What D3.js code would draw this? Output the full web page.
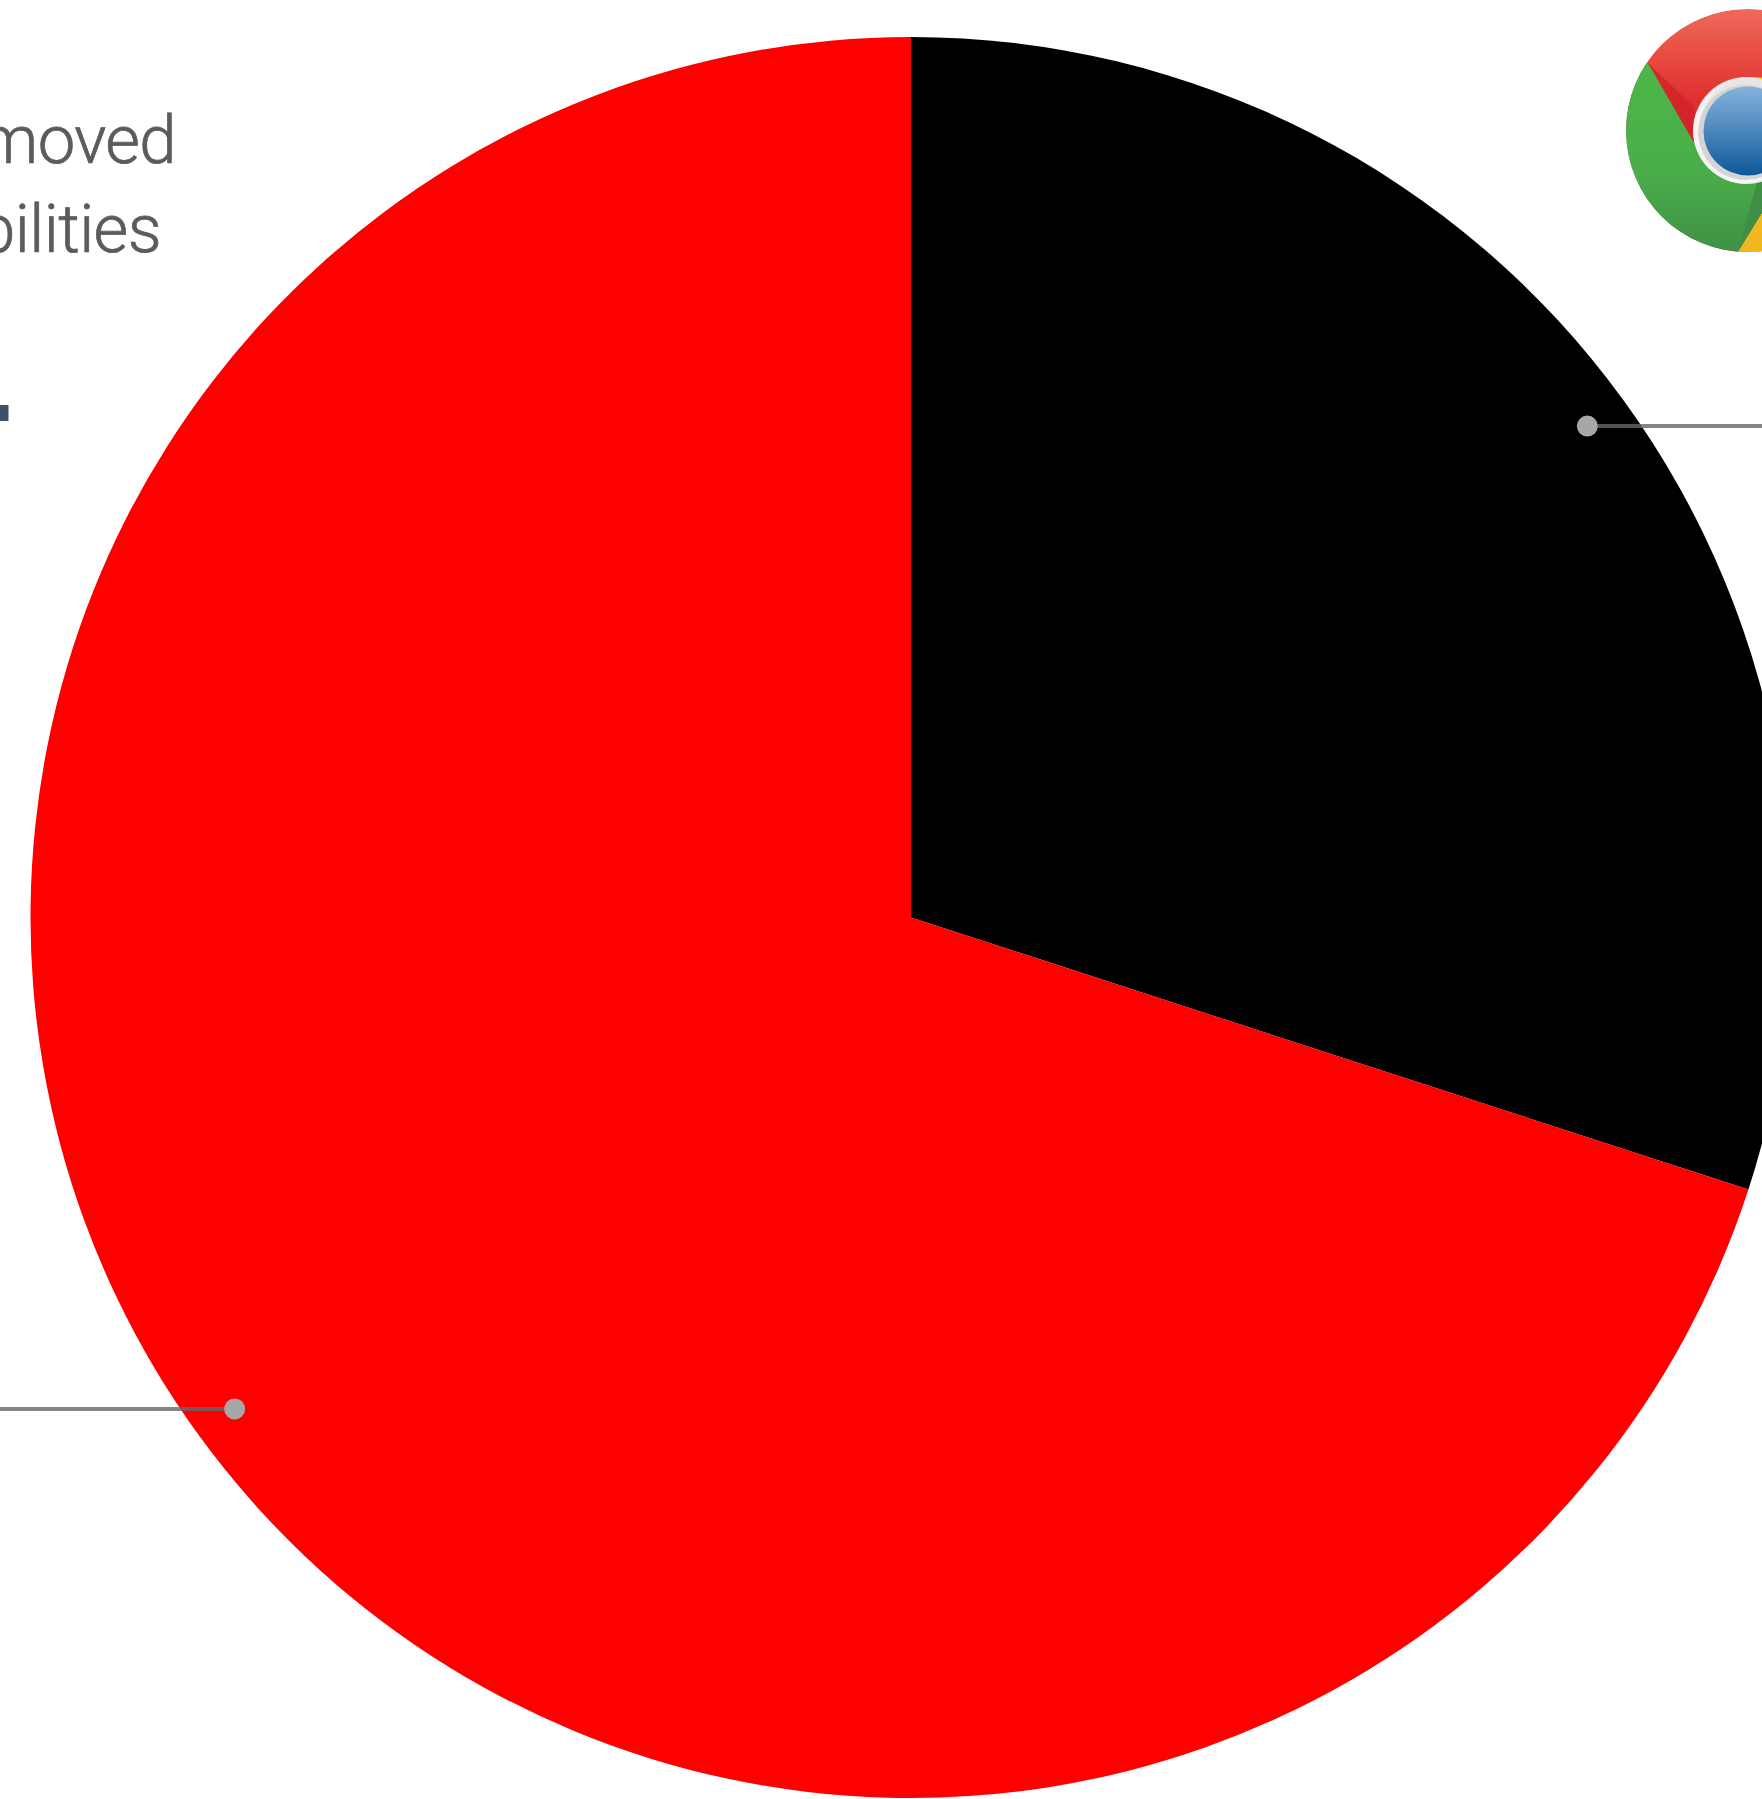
<!DOCTYPE html>
<html>
<head>
<meta charset="utf-8">
<script src="https://cdn.jsdelivr.net/npm/d3@7"></script>
<style>
  html, body { margin: 0; padding: 0; background: #fff; overflow: hidden; }
  svg { display: block; }
</style>
</head>
<body>
<script>
// Pie shares, in percent
const categories = ["Other", "Chrome"];
const shares = [30, 70];
const sliceColors = ["#000000", "#fe0000"];

// Caption lines that run in from the left of the page
const captionLines = ["removed", "vulnerabilities"];

const width = 1762, height = 1799;
const cx = 911, cy = 917.5, radius = 880.5, leaderRadius = 836;

const svg = d3.select("body").append("svg")
  .attr("width", width).attr("height", height)
  .attr("viewBox", [0, 0, width, height]);

const defs = svg.append("defs");
function verticalGradient(id, stops) {
  const g = defs.append("linearGradient").attr("id", id)
    .attr("x1", 0).attr("y1", 0).attr("x2", 0).attr("y2", 1);
  stops.forEach(([o, c]) => g.append("stop").attr("offset", o).attr("stop-color", c));
}
verticalGradient("logoRed", [[0, "#ee6a5c"], [0.2, "#e84a40"], [0.45, "#dd2429"], [1, "#dd2429"]]);
verticalGradient("logoGreen", [[0, "#4cb749"], [0.55, "#4aae4a"], [1, "#3e8e46"]]);
verticalGradient("logoYellow", [[0, "#fdd20a"], [1, "#eeb422"]]);
verticalGradient("logoBlue", [[0, "#85b2dc"], [0.5, "#4b87bd"], [1, "#0e5799"]]);

// Caption text
svg.append("g")
  .attr("font-family", "Roboto, sans-serif")
  .attr("font-weight", 300)
  .attr("font-size", 67)
  .attr("letter-spacing", -0.6)
  .attr("text-rendering", "geometricPrecision")
  .attr("fill", "#5a5b5d")
  .attr("stroke", "#5a5b5d")
  .attr("stroke-width", 0.7)
  .attr("text-anchor", "end")
  .selectAll("text").data(captionLines).join("text")
  .attr("x", (d, i) => i ? 161 : 176)
  .attr("y", (d, i) => 163 + i * 89)
  .text(d => d);

// End of the heading rule at the page edge
svg.append("rect")
  .attr("x", 0).attr("y", 405).attr("width", 8.5).attr("height", 16)
  .attr("fill", "#3f5068");

// Pie
const pie = d3.pie().sort(null).value(d => d).startAngle(0).endAngle(2 * Math.PI);
const arcs = pie(shares);
const sliceArc = d3.arc().innerRadius(0).outerRadius(radius);
const leaderArc = d3.arc().innerRadius(leaderRadius).outerRadius(leaderRadius);

const plot = svg.append("g").attr("transform", `translate(${cx},${cy})`);
plot.selectAll("path").data(arcs).join("path")
  .attr("d", sliceArc)
  .attr("fill", (d, i) => sliceColors[i]);

// Leader lines run from each slice's mid-angle dot off the nearer page edge
const leaders = svg.append("g");
arcs.forEach(d => {
  const [px, py] = leaderArc.centroid(d);
  const x = px + cx, y = py + cy;
  leaders.append("line")
    .attr("x1", x).attr("y1", y)
    .attr("x2", px > 0 ? width : 0).attr("y2", y)
    .attr("stroke", "#666").attr("stroke-opacity", 0.8).attr("stroke-width", 4);
  leaders.append("circle")
    .attr("cx", x).attr("cy", y).attr("r", 10.5)
    .attr("fill", "#a6a8a8");
});

// Browser logo in the top right corner
const logoR = 121.5;
const logo = svg.append("g").attr("transform", "translate(1747.5,130.5)");
defs.append("clipPath").attr("id", "logoDisc")
  .append("circle").attr("r", logoR);
const disc = logo.append("g").attr("clip-path", "url(#logoDisc)");
const poly = d3.line();
disc.append("circle").attr("r", logoR).attr("fill", "url(#logoRed)");
disc.append("path").attr("fill", "#d0242a").attr("opacity", 0.8)
  .attr("d", poly([[-100, -68], [-54, -24], [-53, 13]]) + "Z");
disc.append("path").attr("fill", "url(#logoYellow)")
  .attr("d", poly([[0, -53], [130, -53], [130, 130], [-9.5, 130], [-9.5, 121], [14.5, 82], [50, 20]]) + "Z");
disc.append("path").attr("fill", "url(#logoGreen)")
  .attr("d", poly([[-100, -68], [-53, 13], [-30, 45], [9, 53], [40, 35], [14.5, 82], [-9.5, 121], [-9.5, 130], [-130, 130], [-130, -68]]) + "Z");
disc.append("path").attr("fill", "#3f8f46")
  .attr("d", poly([[9, 53], [40, 35], [14.5, 82], [-9.5, 121]]) + "Z");

// Ring around the blue centre, lit along its lower left with a soft shadow inside
logo.append("circle").attr("cx", -1).attr("r", 53.5).attr("fill", "#e6e6e6");
logo.append("circle").attr("cx", -2).attr("cy", 1).attr("r", 52).attr("fill", "#f4f4f4");
logo.append("circle").attr("cx", 2).attr("cy", -3).attr("r", 49.5).attr("fill", "#e6e6e6");
logo.append("circle").attr("cx", -1.8).attr("cy", 1.8).attr("r", 47.5).attr("fill", "#d4d4d4");
logo.append("circle").attr("cx", 0.5).attr("cy", 0.5).attr("r", 44.5).attr("fill", "url(#logoBlue)");
</script>
</body>
</html>
